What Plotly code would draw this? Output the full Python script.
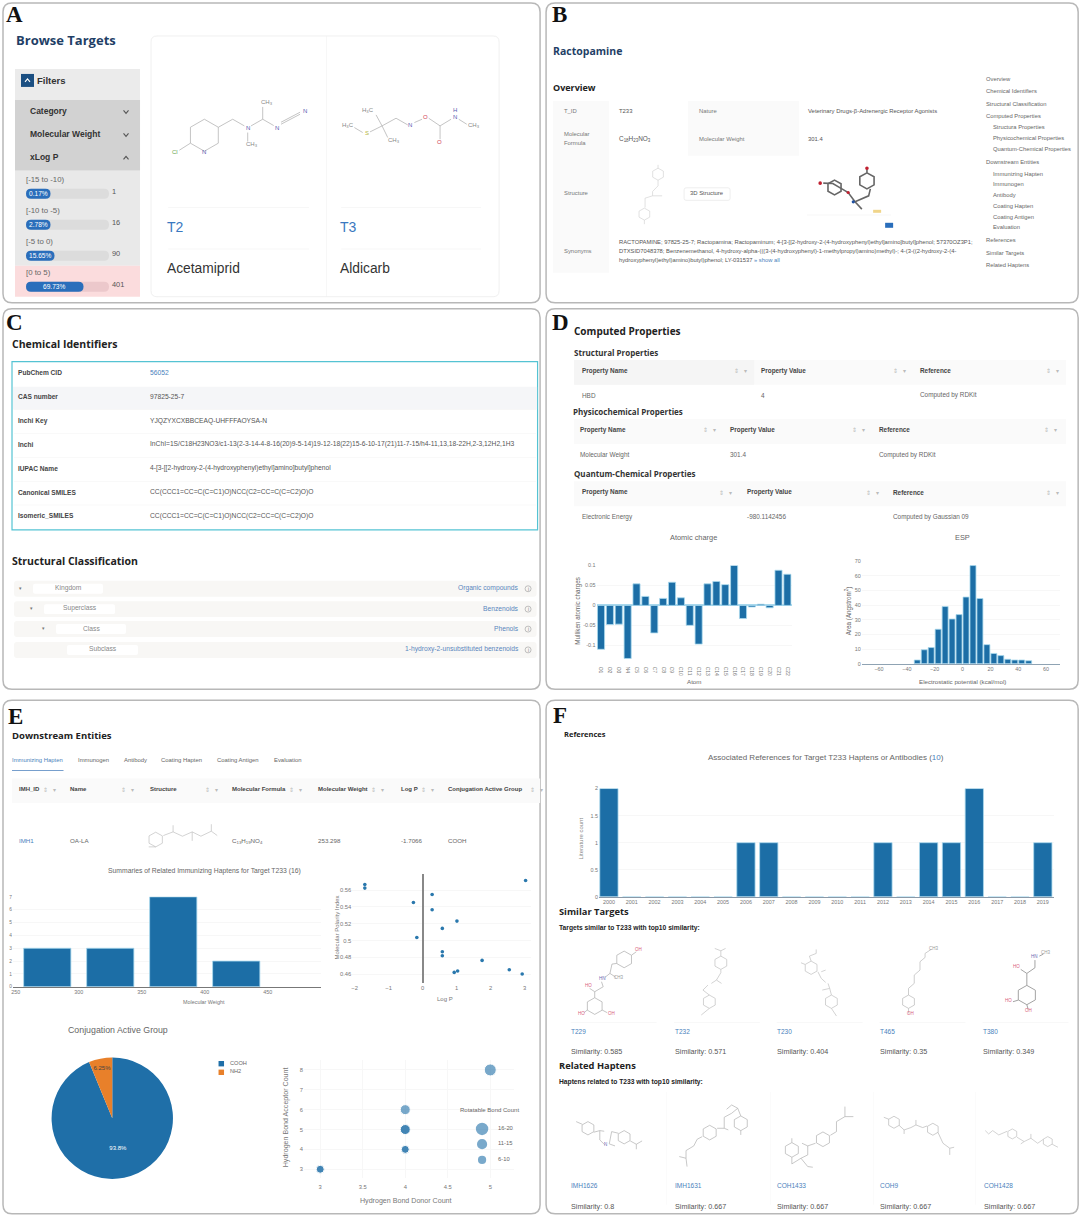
import plotly.graph_objects as go

W = 1080
H = 1216

atoms = ['O1', 'O2', 'O3', 'N4', 'C5', 'C6', 'C7', 'C8', 'C9', 'C10', 'C11', 'C12', 'C13', 'C14', 'C15',
         'C16', 'C17', 'C18', 'C19', 'C20', 'C21', 'C22']
atom_charges = [-0.11, -0.048, -0.047, -0.133, 0.054, 0.0225, -0.069, 0.0175, 0.058, 0.019, -0.05, -0.097,
                0.054, 0.06, 0.052, 0.1, -0.033, -0.004, 0.003, -0.006, 0.088, 0.078]

esp_bins = [-32.5, -27.5, -22.5, -17.5, -12.5, -7.5, -2.5, 2.5, 7.5, 12.5, 17.5, 22.5, 27.5, 32.5, 37.5, 42.5, 47.5]
esp_area = [2.5, 9.5, 11, 23.5, 39, 30.5, 33.5, 45.5, 67, 44.5, 13, 7, 5.5, 3, 2.5, 2.5, 2]

mw_bins = [275, 325, 375, 425]
mw_counts = [3, 3, 7, 2]

log_p = [-1.70, -1.70, -0.27, 0.28, 0.28, -0.17, 0.58, 1.01, 0.58, 0.58, 1.75, 0.93, 1.03, 2.55, 2.93, 3.03]
polarity = [0.5667, 0.5624, 0.5453, 0.5548, 0.5366, 0.5036, 0.5144, 0.5231, 0.4866, 0.4818, 0.4763, 0.462,
            0.4636, 0.4652, 0.46, 0.5715]

group_names = ['COOH', 'NH2']
group_counts = [15, 1]

hb_donor = [3, 3, 4, 4, 4, 4, 4, 5]
hb_acceptor = [3, 3, 4, 4, 5, 5, 6, 8]
rot_bonds = [8, 8, 8, 8, 10, 10, 10, 12]

ref_years = list(range(2000, 2020))
ref_counts = [2, 0, 0, 0, 0, 0, 1, 1, 0, 0, 0, 0, 1, 0, 1, 1, 2, 0, 0, 1]

BLUE = '#1c6ea6'
EDGE = '#a9d9ee'
LINK = '#4a7fbc'
SANS = 'Liberation Sans'
HEAD = 'Open Sans'
GRID = '#f7f7f7'

shapes = []
annotations = []


def px(x):
    return (x * 1.002 - 1) / W


def py(y):
    return 1 - (y * 1.004 - 2) / H


def text(x, y, s, size=6.5, color='#555', anchor='left', font=SANS, angle=0):
    if anchor == 'left':
        x = x - 1.3
    annotations.append(dict(x=px(x), y=py(y - 1), xref='paper', yref='paper', text=s, showarrow=False,
                            xanchor=anchor, yanchor='middle', textangle=angle, borderpad=0,
                            font=dict(size=size, color=color, family=font)))


def rect(x0, y0, x1, y1, fill='rgba(0,0,0,0)', line=None, width=1):
    shapes.append(dict(type='rect', xref='paper', yref='paper', x0=px(x0), x1=px(x1), y0=py(y0), y1=py(y1),
                       fillcolor=fill, line=dict(color=line, width=width if line else 0), layer='below'))


def round_rect(x0, y0, x1, y1, r=8, fill='rgba(0,0,0,0)', line=None, width=1):
    p = (f'M {px(x0 + r)} {py(y0)} L {px(x1 - r)} {py(y0)} Q {px(x1)} {py(y0)} {px(x1)} {py(y0 + r)} '
         f'L {px(x1)} {py(y1 - r)} Q {px(x1)} {py(y1)} {px(x1 - r)} {py(y1)} '
         f'L {px(x0 + r)} {py(y1)} Q {px(x0)} {py(y1)} {px(x0)} {py(y1 - r)} '
         f'L {px(x0)} {py(y0 + r)} Q {px(x0)} {py(y0)} {px(x0 + r)} {py(y0)} Z')
    shapes.append(dict(type='path', xref='paper', yref='paper', path=p, fillcolor=fill,
                       line=dict(color=line, width=width if line else 0), layer='below'))


def polyline(points, color='#aaa', width=0.7, close=False):
    p = ' '.join(('M' if i == 0 else 'L') + f' {px(a)} {py(b)}' for i, (a, b) in enumerate(points))
    shapes.append(dict(type='path', xref='paper', yref='paper', path=p + (' Z' if close else ''),
                       line=dict(color=color, width=width), layer='above'))


def circle(cx, cy, r, fill='rgba(0,0,0,0)', line=None, width=1):
    shapes.append(dict(type='circle', xref='paper', yref='paper', x0=px(cx - r), x1=px(cx + r),
                       y0=py(cy - r), y1=py(cy + r), fillcolor=fill,
                       line=dict(color=line, width=width if line else 0), layer='above'))


def molecule(ox, oy, sx, rings=(), chains=(), labels=(), color='#aaa', width=0.7, size=4.5):
    def conv(a, b):
        return ox + a / sx, oy + b / 3

    for a, b, r in rings:
        pts = [conv(a, b - r), conv(a + 0.87 * r, b - r / 2), conv(a + 0.87 * r, b + r / 2),
               conv(a, b + r), conv(a - 0.87 * r, b + r / 2), conv(a - 0.87 * r, b - r / 2)]
        polyline(pts, color, width, close=True)
    for chain in chains:
        polyline([conv(a, b) for a, b in chain], color, width)
    for a, b, s, c in labels:
        x, y = conv(a, b)
        text(x, y, s, size, c, 'center')


def sort_icons(x, y):
    text(x, y, '⇕', 6, '#bbb', 'center', 'DejaVu Sans')
    text(x + 9, y, '▾', 6, '#bbb', 'center', 'DejaVu Sans')


def chevron(x, y, up=False, color='#555'):
    d = -1.5 if up else 1.5
    polyline([(x - 2.5, y - d), (x, y + d), (x + 2.5, y - d)], color, 1.1)


# panel frames and letters
for x0, y0, x1, y1 in [(2, 2, 539, 302), (545, 2, 1077, 302), (2, 308, 539, 689), (545, 308, 1077, 689),
                       (2, 700, 539, 1214), (545, 700, 1077, 1214)]:
    round_rect(x0, y0, x1, y1, 9, '#ffffff', '#b8b8b8', 1.5)
for x, y, s in [(5, 15, 'A'), (551, 15, 'B'), (5, 323, 'C'), (551, 323, 'D'), (7, 717, 'E'), (552, 716, 'F')]:
    text(x, y, f'<b>{s}</b>', 23, '#111', font='Liberation Serif')

# panel A
text(15, 40, '<b>Browse Targets</b>', 13, '#1f3f66', font=HEAD)
rect(14, 68, 139, 99, '#ebebeb')
rect(14, 99, 139, 170, '#d2d2d2')
rect(14, 170, 139, 265, '#e9e9e9')
rect(14, 265, 139, 296, '#fbdcdd')
rect(20, 73, 33, 86, '#1b4f82')
chevron(26.5, 79.5, True, '#ffffff')
text(36, 81, '<b>Filters</b>', 9.5, '#333')
for y, s, up in [(111, 'Category', False), (134, 'Molecular Weight', False), (157, 'xLog P', True)]:
    text(29, y, f'<b>{s}</b>', 8.5, '#333')
    chevron(125, y, up)
for y, lab, pct, n, end in [(180, '[-15 to -10)', '0.17%', '1', 49.5), (211, '[-10 to -5)', '2.78%', '16', 49.5),
                            (242, '[-5 to 0)', '15.65%', '90', 53.5), (273, '[0 to 5)', '69.73%', '401', 82.5)]:
    text(25, y, lab, 7.8, '#666')
    round_rect(25, y + 8, 108, y + 18, 5, '#dcdcdc' if y < 270 else '#ecc8cb')
    round_rect(25, y + 8, end, y + 18, 5, '#2a6ebb')
    text((25 + end) / 2, y + 13.5, pct, 6.6, '#ffffff', 'center')
    text(111, y + 12, n, 7.4, '#555')
round_rect(150, 35, 498, 296, 6, '#ffffff', '#f0f0f0', 1)
rect(325, 35, 325.5, 296, '#f0f0f0')
for x0, x1, code, name in [(167, 308, 'T2', 'Acetamiprid'), (340, 480, 'T3', 'Aldicarb')]:
    rect(x0, 206.5, x1, 207, '#f0f0f0')
    rect(x0, 248, x1, 248.5, '#f0f0f0')
    text(x0 - 1, 227, code, 14, '#3a78c0')
    text(x0 - 1, 269, name, 13.8, '#333')
molecule(145, 30, 3, rings=[(175, 313, 48)],
         chains=[[(133, 337), (100, 358)], [(217, 289), (260, 265), (295, 285)], [(305, 305), (305, 332)],
                 [(315, 285), (350, 265), (350, 228)], [(350, 265), (383, 284)], [(405, 280), (462, 250)],
                 [(405, 274), (462, 244)]],
         labels=[(87, 367, 'Cl', '#6aa84f'), (175, 367, 'N', '#5a5ab0'), (305, 293, 'N', '#5a5ab0'),
                 (318, 343, 'CH<sub>3</sub>', '#888'), (362, 218, 'CH<sub>3</sub>', '#888'),
                 (392, 293, 'N', '#5a5ab0'), (477, 242, 'N', '#5a5ab0')], size=6)
molecule(145, 30, 3,
         chains=[[(625, 290), (650, 305)], [(672, 303), (708, 285)], [(708, 285), (690, 252)], [(708, 285), (725, 320)],
                 [(708, 285), (750, 262), (785, 282)], [(805, 275), (828, 265)], [(848, 262), (882, 285), (915, 265)],
                 [(882, 285), (882, 325)], [(938, 265), (962, 280)]],
         labels=[(606, 287, 'H<sub>3</sub>C', '#888'), (662, 310, 'S', '#b5b53c'), (665, 243, 'H<sub>3</sub>C', '#888'),
                 (745, 332, 'CH<sub>3</sub>', '#888'), (793, 286, 'N', '#5a5ab0'), (838, 262, 'O', '#d04050'),
                 (881, 337, 'O', '#d04050'), (926, 260, 'N', '#5a5ab0'), (926, 240, 'H', '#5a5ab0'),
                 (983, 288, 'CH<sub>3</sub>', '#888')], size=6)

# panel B
text(552, 51, '<b>Ractopamine</b>', 10.5, '#1f3f66', font=HEAD)
text(552, 88, '<b>Overview</b>', 9, '#222', font=HEAD)
rect(552, 100, 608, 272, '#fafafa')
rect(687, 100, 798, 155, '#fafafa')
text(563, 111, 'T_ID', 5.9, '#777')
text(618, 111, 'T233', 5.9, '#555')
text(698, 111, 'Nature', 5.9, '#777')
text(807, 111, 'Veterinary Drugs-β-Adrenergic Receptor Agonists', 5.9, '#555')
text(563, 134, 'Molecular', 5.9, '#777')
text(563, 143, 'Formula', 5.9, '#777')
text(618, 139, 'C<sub>18</sub>H<sub>23</sub>NO<sub>3</sub>', 6.4, '#555')
text(698, 139, 'Molecular Weight', 5.9, '#777')
text(807, 139, '301.4', 5.9, '#555')
text(563, 193, 'Structure', 5.9, '#777')
round_rect(683, 187, 729, 199.5, 2, '#ffffff', '#eeeeee', 1)
text(706, 193, '3D Structure', 5.9, '#555', 'center')
text(563, 251, 'Synonyms', 5.9, '#777')
text(618, 242, 'RACTOPAMINE; 97825-25-7; Ractopamina; Ractopaminum; 4-[3-[[2-hydroxy-2-(4-hydroxyphenyl)ethyl]amino]butyl]phenol; 57370OZ3P1;', 5.8, '#555')
text(618, 251, 'DTXSID7048378; Benzenemethanol, 4-hydroxy-alpha-(((3-(4-hydroxyphenyl)-1-methylpropyl)amino)methyl)-; 4-(3-((2-hydroxy-2-(4-', 5.8, '#555')
text(618, 260, 'hydroxyphenyl)ethyl)amino)butyl)phenol; LY-031537 <span style="color:#4a7fbc">» show all</span>', 5.8, '#555')
nav = [('Overview', 0), ('Chemical Identifiers', 0), ('Structural Classification', 0), ('Computed Properties', 0),
       ('Structura Properties', 1), ('Physicochemical Properties', 1), ('Quantum-Chemical Properties', 1),
       ('Downstream Entities', 0), ('Immunizing Hapten', 1), ('Immunogen', 1), ('Antibody', 1), ('Coating Hapten', 1),
       ('Coating Antigen', 1), ('Evaluation', 1), ('References', 0), ('Similar Targets', 0), ('Related Haptens', 0)]
nav_y = [78.7, 91, 103.7, 116, 127.3, 138.3, 149, 162.3, 173.7, 184.3, 195, 205.7, 216.7, 227.3, 240.7, 253.3, 265.7]
for (s, indent), y in zip(nav, nav_y):
    text(985 + 7 * indent, y, s, 5.8, '#666')
molecule(545, 60, 2.93, rings=[(328, 340, 18), (288, 460, 18)],
         chains=[[(328, 358), (328, 375), (312, 392), (312, 405), (290, 412), (290, 440)],
                 [(312, 405), (340, 405)], [(328, 322), (328, 312)], [(288, 478), (288, 490)]],
         color='#cccccc', width=0.6)
molecule(545, 60, 2.93, rings=[(940, 360, 24), (845, 380, 22)],
         chains=[[(812, 367), (840, 368), (868, 385), (885, 395), (905, 423), (945, 405), (950, 384)],
                 [(905, 423), (925, 445)], [(940, 336), (940, 325)]],
         color='#666666', width=1.6)
circle(545 + 803 / 2.93, 60 + 367 / 3, 1.8, '#c02030')
circle(545 + 940 / 2.93, 60 + 322 / 3, 1.8, '#c02030')
circle(545 + 885 / 2.93, 60 + 395 / 3, 1.6, '#c02030')
circle(545 + 900 / 2.93, 60 + 423 / 3, 1.6, '#2050a0')
rect(872, 209, 880, 212, '#f0d58a')
rect(884, 222, 892, 227, '#2a6ebb')
rect(806, 214, 890, 214.4, '#eeeeee')

# panel C
text(11, 344, '<b>Chemical Identifiers</b>', 10.5, '#222', font=HEAD)
rect(11, 361, 536.5, 529.3, '#ffffff', '#55c3d3', 1.2)
rect(12, 386, 536, 409, '#f5f6f8')
chem_rows = [('PubChem CID', '56052', 373.3), ('CAS number', '97825-25-7', 397.3),
             ('Inchi Key', 'YJQZYXCXBBCEAQ-UHFFFAOYSA-N', 421),
             ('Inchi', 'InChI=1S/C18H23NO3/c1-13(2-3-14-4-8-16(20)9-5-14)19-12-18(22)15-6-10-17(21)11-7-15/h4-11,13,18-22H,2-3,12H2,1H3', 444.7),
             ('IUPAC Name', '4-[3-[[2-hydroxy-2-(4-hydroxyphenyl)ethyl]amino]butyl]phenol', 468.7),
             ('Canonical SMILES', 'CC(CCC1=CC=C(C=C1)O)NCC(C2=CC=C(C=C2)O)O', 492.7),
             ('Isomeric_SMILES', 'CC(CCC1=CC=C(C=C1)O)NCC(C2=CC=C(C=C2)O)O', 516.3)]
for lab, val, y in chem_rows:
    text(17, y, f'<b>{lab}</b>', 6.6, '#444')
    text(149, y, val, 6.7, LINK if lab == 'PubChem CID' else '#555')
    if y > 420:
        rect(13, y - 12, 535, y - 11.6, '#f3f3f3')
text(11, 562, '<b>Structural Classification</b>', 10.5, '#222', font=HEAD)
for y, x0, x1, lab, val, caret in [(588.3, 32, 102, 'Kingdom', 'Organic compounds', 19),
                                   (608.7, 43, 114, 'Superclass', 'Benzenoids', 30.5),
                                   (628.7, 55, 125, 'Class', 'Phenols', 42),
                                   (649.5, 66, 137, 'Subclass', '1-hydroxy-2-unsubstituted benzenoids', None)]:
    round_rect(13, y - 8, 535.5, y + 8, 3, '#f8f7f5')
    round_rect(x0, y - 5, x1, y + 5, 2, '#ffffff')
    text((x0 + x1) / 2, y, lab, 6.7, '#888', 'center')
    text(518.5, y, val, 6.7, '#5a86bd', 'right')
    circle(527, y, 3, 'rgba(0,0,0,0)', '#999', 0.6)
    text(527, y + 1, 'i', 5, '#888', 'center')
    if caret:
        text(caret, y, '▾', 5, '#777', 'center', 'DejaVu Sans')

# panel D
text(573, 331, '<b>Computed Properties</b>', 10, '#222', font=HEAD)
prop_tables = [('Structural Properties', 573, 352.7, 359.3, 384, 371, 395.7, [581, 760, 919], [735, 894, 1047],
                ['HBD', '4', 'Computed by RDKit']),
               ('Physicochemical Properties', 572, 412, 418.3, 443.3, 430, 455, [579, 729, 878], [704, 853, 1045],
                ['Molecular Weight', '301.4', 'Computed by RDKit']),
               ('Quantum-Chemical Properties', 573, 474, 480.7, 505.7, 492.7, 517, [581, 746, 892], [720, 867, 1047],
                ['Electronic Energy', '-980.1142456', 'Computed by Gaussian 09'])]
for title, tx, ty, y0, y1, hy, ry, cols, icons, vals in prop_tables:
    text(tx, ty, f'<b>{title}</b>', 8, '#333', font=HEAD)
    rect(573, y0, 1065, y1, '#fafafa')
    for x, ic, head, val in zip(cols, icons, ['Property Name', 'Property Value', 'Reference'], vals):
        text(x, hy, f'<b>{head}</b>', 6.4, '#444')
        text(x, ry, val, 6.4, '#666')
        sort_icons(ic, hy)
rect(573, 359.3, 753, 384, '#f5f5f5')
text(692.5, 538, 'Atomic charge', 7.4, '#666', 'center')
text(961.5, 538, 'ESP', 7.4, '#666', 'center')
text(692.5, 681.7, 'Atom', 6.2, '#666', 'center')
text(961.5, 681.7, 'Electrostatic potential (kcal/mol)', 6.2, '#666', 'center')
text(577.5, 611.7, 'Mulliken atomic charges', 6.3, '#666', 'center', angle=-90)
text(847, 611.7, 'Area (Angstrom<sup>2</sup>)', 6.3, '#666', 'center', angle=-90)

# panel E
text(11, 736, '<b>Downstream Entities</b>', 9.5, '#222', font=HEAD)
tab_names = ['Immunizing Hapten', 'Immunogen', 'Antibody', 'Coating Hapten', 'Coating Antigen', 'Evaluation']
for x, s in zip([11, 77, 123, 160, 216, 273.5], tab_names):
    text(x, 760.7, s, 5.9, LINK if s == tab_names[0] else '#666')
rect(11, 769.6, 62.5, 770.4, LINK)
rect(11, 778.3, 539, 802.7, '#fafafa')
col_x = [18, 69, 149, 231.5, 317.5, 400, 447.5]
col_heads = ['IMH_ID', 'Name', 'Structure', 'Molecular Formula', 'Molecular Weight', 'Log P', 'Conjugation Active Group']
col_vals = ['IMH1', 'OA-LA', None, 'C<sub>13</sub>H<sub>19</sub>NO<sub>4</sub>', '253.298', '-1.7066', 'COOH']
col_icons = [44, 122, 206, 290, 372, 422, 531]
for x, head, val, ic in zip(col_x, col_heads, col_vals, col_icons):
    text(x, 790, f'<b>{head}</b>', 6, '#444')
    if val:
        text(x, 841.7, val, 6.2, LINK if val == 'IMH1' else '#666')
    sort_icons(ic, 790)
molecule(0, 750, 2.877, rings=[(445, 268, 22)],
         chains=[[(467, 256), (495, 245), (522, 258), (550, 245), (575, 258), (605, 243)], [(495, 245), (495, 225)],
                 [(550, 245), (550, 272)], [(605, 243), (605, 222)], [(605, 243), (622, 256)],
                 [(445, 290), (425, 290)]],
         color='#b5b5b5', width=0.6)
text(203, 872.3, 'Summaries of Related Immunizing Haptens for Target T233 (16)', 6.8, '#666', 'center')
text(203, 1002.7, 'Molecular Weight', 5.4, '#777', 'center')
text(444, 1000, 'Log P', 6, '#777', 'center')
text(336, 928.3, 'Molecular Polarity Index', 6, '#777', 'center', angle=-90)
text(116.5, 1031.3, 'Conjugation Active Group', 8.8, '#666', 'center')
for y, c, s in [(1063.7, '#1f6fa8', group_names[0]), (1072.3, '#e8802a', group_names[1])]:
    rect(217.5, y - 2.7, 223, y + 2.7, c)
    text(229.5, y, s, 5.6, '#666')
text(285, 1118.3, 'Hydrogen Bond Acceptor Count', 7.1, '#777', 'center', angle=-90)
text(405, 1201.7, 'Hydrogen Bond Donor Count', 7.1, '#777', 'center')
text(488.5, 1110.7, 'Rotatable Bond Count', 6, '#666', 'center')
for y, r, s in [(1129, 6.2, '16-20'), (1144.3, 5.1, '11-15'), (1160, 4.1, '6-10')]:
    circle(481, y, r, 'rgba(31,111,168,0.6)')
    text(497, y, s, 5.8, '#666')

# panel F
text(563, 735, '<b>References</b>', 7.5, '#222', font=HEAD)
text(824.5, 758.7, 'Associated References for Target T233 Haptens or Antibodies (<span style="color:#4a7fbc">10</span>)',
     8, '#666', 'center')
text(579, 839.3, 'Literature count', 6, '#888', 'center', angle=-90)
text(558, 912.7, '<b>Similar Targets</b>', 9.3, '#222', font=HEAD)
text(558, 928.7, '<b>Targets similar to T233 with top10 similarity:</b>', 6.7, '#222')
text(558, 1067, '<b>Related Haptens</b>', 9.3, '#222', font=HEAD)
text(558, 1082.7, '<b>Haptens related to T233 with top10 similarity:</b>', 6.7, '#222')
similar = [('T229', '0.585', 570.6), ('T232', '0.571', 673.8), ('T230', '0.404', 776.5), ('T465', '0.35', 879.3),
           ('T380', '0.349', 982.4)]
for name, sim, x in similar:
    text(x, 1032.3, name, 6.5, LINK)
    text(x, 1052.7, f'Similarity: {sim}', 7.2, '#555')
    rect(x - 1, 1022, x + 85, 1022.4, '#f2f2f2')
related = [('IMH1626', '0.8', 570.6), ('IMH1631', '0.667', 673.8), ('COH1433', '0.667', 776.5), ('COH9', '0.667', 879.6),
           ('COH1428', '0.667', 982.8)]
for name, sim, x in related:
    text(x, 1187, name, 6.5, LINK)
    text(x, 1207.3, f'Similarity: {sim}', 7.2, '#555')
for x in [665, 769.5, 872, 974.5]:
    rect(x, 1092, x + 0.4, 1205, '#f4f4f4')

RED = '#d8607a'
GRY = '#999'
sim_mols = [
    dict(rings=[(222, 118, 25), (135, 258, 25)],
         chains=[[(200, 130), (186, 132), (180, 160), (165, 172)], [(180, 160), (198, 172)], [(155, 185), (160, 200), (135, 215), (135, 233)],
                 [(135, 215), (120, 205)], [(244, 105), (258, 95)], [(113, 270), (103, 278)], [(157, 270), (172, 278)]],
         labels=[(265, 92, 'OH', RED), (96, 282, 'HO', RED), (185, 282, 'OH', RED), (116, 199, 'HO', RED), (158, 177, 'HN', '#6a6ab5'),
                 (207, 176, 'CH3', GRY)]),
    dict(rings=[(508, 128, 20), (474, 245, 20)],
         chains=[[(508, 108), (508, 92), (490, 85)], [(508, 92), (522, 85)], [(508, 148), (508, 158), (495, 180), (480, 190)],
                 [(495, 180), (510, 190)], [(470, 195), (455, 210), (474, 225)], [(474, 265), (450, 285)]],
         color='#c0c0c0'),
    dict(rings=[(775, 143, 20), (835, 245, 20)],
         chains=[[(775, 123), (770, 108), (790, 100), (790, 88)], [(757, 133), (745, 128)], [(795, 155), (805, 175), (818, 187)],
                 [(805, 155), (818, 150)], [(825, 190), (830, 205), (835, 225)], [(830, 205), (808, 210)], [(835, 265), (850, 288)]],
         color='#c0c0c0'),
    dict(rings=[(1063, 245, 20)],
         chains=[[(1063, 225), (1063, 205), (1080, 190), (1080, 165), (1097, 150), (1097, 125), (1112, 112), (1112, 100), (1130, 88)],
                 [(1063, 265), (1063, 280)]],
         labels=[(1068, 284, 'OH', RED), (1138, 88, 'CH3', GRY)], color='#b8b8b8'),
    dict(rings=[(1413, 225, 29)],
         chains=[[(1413, 196), (1413, 160), (1437, 143), (1437, 120)], [(1413, 160), (1395, 148)], [(1388, 240), (1372, 245)],
                 [(1413, 254), (1417, 268)], [(1450, 108), (1462, 102)]],
         labels=[(1383, 143, 'HO', RED), (1358, 245, 'HO', RED), (1417, 275, 'OH', RED), (1435, 113, 'HN', '#6a6ab5'),
                 (1470, 99, 'CH3', GRY)], color='#999', width=0.9),
]
for m in sim_mols:
    molecule(548, 920, 2.958, **m)
rel_mols = [
    dict(rings=[(115, 205, 20), (222, 232, 20)],
         chains=[[(98, 193), (80, 185)], [(132, 217), (150, 212), (150, 240), (165, 255)], [(178, 252), (185, 215), (205, 220)],
                 [(178, 252), (195, 258)], [(150, 212), (163, 214)], [(240, 243), (258, 253), (275, 243)], [(258, 253), (258, 268)]],
         labels=[(166, 258, 'N', '#6a6ab5')], color='#b0b0b0'),
    dict(rings=[(475, 218, 22), (567, 190, 22)],
         chains=[[(497, 205), (518, 205), (518, 172), (540, 160), (558, 145), (540, 135), (525, 148)],
                 [(558, 145), (567, 168)], [(518, 205), (530, 210)], [(453, 230), (438, 238), (428, 258), (405, 272), (405, 295)],
                 [(405, 295), (385, 290)], [(405, 295), (408, 320)], [(567, 212), (567, 225)]],
         color='#b0b0b0'),
    dict(rings=[(718, 270, 22), (810, 238, 22)],
         chains=[[(718, 292), (718, 312), (745, 295), (765, 320), (780, 322)], [(788, 250), (765, 258), (765, 285), (745, 295)],
                 [(765, 258), (748, 250)], [(832, 226), (850, 215), (850, 185), (875, 170), (875, 140)], [(875, 170), (900, 170)],
                 [(718, 248), (718, 235)]],
         color='#b0b0b0'),
    dict(rings=[(1020, 187, 18), (1135, 208, 18)],
         chains=[[(1005, 178), (990, 172)], [(1035, 196), (1050, 210), (1070, 203), (1085, 195), (1105, 203), (1118, 198)],
                 [(1050, 210), (1050, 222)], [(1085, 195), (1085, 180)], [(1150, 217), (1165, 250), (1185, 265), (1185, 285)],
                 [(1185, 265), (1198, 262)]],
         color='#b8b8b8'),
    dict(rings=[(1370, 222, 15), (1475, 245, 15)],
         chains=[[(1355, 214), (1330, 225), (1312, 212), (1300, 222), (1290, 212)], [(1384, 232), (1405, 245), (1425, 235), (1445, 250), (1462, 238)],
                 [(1425, 235), (1425, 222)], [(1488, 253), (1505, 262)], [(1405, 245), (1395, 252)]],
         color='#c0c0c0'),
]
for m in rel_mols:
    molecule(548, 1060, 2.958, **m)

fig = go.Figure()


def bar(x, y, width, n):
    fig.add_trace(go.Bar(x=x, y=y, width=width, marker=dict(color=BLUE, line=dict(color=EDGE, width=0.8)),
                         xaxis=f'x{n}', yaxis=f'y{n}', showlegend=False))


def axis_pair(n, x0, x1, y0, y1, xaxis, yaxis):
    xa = dict(domain=[px(x0), px(x1)], anchor=f'y{n}', showgrid=False, zeroline=False, ticks='',
              tickfont=dict(size=5.4, color='#777', family=SANS))
    ya = dict(domain=[py(y1), py(y0)], anchor=f'x{n}', gridcolor=GRID, gridwidth=1, zeroline=False, ticks='',
              tickfont=dict(size=5.4, color='#777', family=SANS))
    xa.update(xaxis)
    ya.update(yaxis)
    suffix = '' if n == 1 else str(n)
    return {f'xaxis{suffix}': xa, f'yaxis{suffix}': ya}


axes = {}
bar(atoms, atom_charges, 0.8, 1)
axes.update(axis_pair(1, 595.5, 790.7, 565, 659.3,
                      dict(type='category', tickangle=90, tickfont=dict(size=5, color='#777', family=SANS), range=[-0.5, 21.5],
                           ticks='outside', ticklen=5, tickcolor='rgba(0,0,0,0)'),
                      dict(range=[-0.136, 0.1], tickvals=[-0.1, -0.05, 0, 0.05, 0.1],
                           ticktext=['-0.1', '-0.05', '0', '0.05', '0.1'], zeroline=True, zerolinecolor=EDGE)))
bar(esp_bins, esp_area, 4.3, 2)
axes.update(axis_pair(2, 860.7, 1058.6, 560.7, 663.3,
                      dict(range=[-72.3, 69.8], tickvals=[-60, -40, -20, 0, 20, 40, 60], showline=True, linecolor='#8fa3b3'),
                      dict(range=[0, 70], dtick=10)))
bar(mw_bins, mw_counts, 37.5, 3)
axes.update(axis_pair(3, 12, 319.6, 896.7, 986.7,
                      dict(range=[247.8, 492], tickvals=[250, 300, 350, 400, 450], showline=True, linecolor='#777', linewidth=1),
                      dict(range=[0, 7], dtick=1, tickfont=dict(size=4.8, color='#777', family=SANS))))
fig.add_trace(go.Scatter(x=log_p, y=polarity, mode='markers', marker=dict(size=3.6, color='#2a78ad'),
                         xaxis='x4', yaxis='y4', showlegend=False))
axes.update(axis_pair(4, 351.2, 530.3, 874, 983.3,
                      dict(range=[-2.07, 3.2], dtick=1, zeroline=True, zerolinecolor='#888', zerolinewidth=1.5, showgrid=False,
                           tickfont=dict(size=5.8, color='#777', family=SANS)),
                      dict(range=[0.4489, 0.579], tickvals=[0.46, 0.48, 0.5, 0.52, 0.54, 0.56],
                           ticktext=['0.46', '0.48', '0.5', '0.52', '0.54', '0.56'], tickfont=dict(size=5.8, color='#777', family=SANS))))
fig.add_trace(go.Scatter(x=hb_donor, y=hb_acceptor, mode='markers',
                         marker=dict(size=rot_bonds, sizeref=1, sizemode='diameter', color='#1f6fa8', opacity=0.6),
                         xaxis='x5', yaxis='y5', showlegend=False))
axes.update(axis_pair(5, 303, 513, 1060, 1178.3,
                      dict(range=[2.81, 5.28], tickvals=[3, 3.5, 4, 4.5, 5], ticktext=['3', '3.5', '4', '4.5', '5'], showgrid=True,
                           gridcolor=GRID, tickfont=dict(size=5.8, color='#777', family=SANS),
                           ticks='outside', ticklen=3, tickcolor='rgba(0,0,0,0)'),
                      dict(range=[2.55, 8.5], dtick=1, tickfont=dict(size=5.8, color='#777', family=SANS))))
bar(ref_years, ref_counts, 0.8, 6)
axes.update(axis_pair(6, 598, 1052.4, 788.3, 896.7,
                      dict(range=[1999.57, 2019.47], dtick=1, showline=True, linecolor='#8a99a8'),
                      dict(range=[0, 2], tickvals=[0, 0.5, 1, 1.5, 2], ticktext=['0', '0.5', '1', '1.5', '2'])))
fig.add_trace(go.Pie(labels=group_names, values=group_counts, sort=False, direction='clockwise', hole=0,
                     domain=dict(x=[px(50.5), px(172)], y=[py(1179), py(1057.5)]),
                     marker=dict(colors=['#1f6fa8', '#e8802a']), textinfo='percent', textposition='inside',
                     insidetextorientation='horizontal', insidetextfont=dict(size=6, family=SANS),
                     showlegend=False))

fig.update_layout(width=W, height=H, margin=dict(l=0, r=0, t=0, b=0), paper_bgcolor='#ffffff', plot_bgcolor='rgba(0,0,0,0)',
                  shapes=shapes, annotations=annotations, barmode='overlay', **axes)

fig.write_html("out.html", config={'displayModeBar': False}, post_script="document.body.style.margin='0';")
